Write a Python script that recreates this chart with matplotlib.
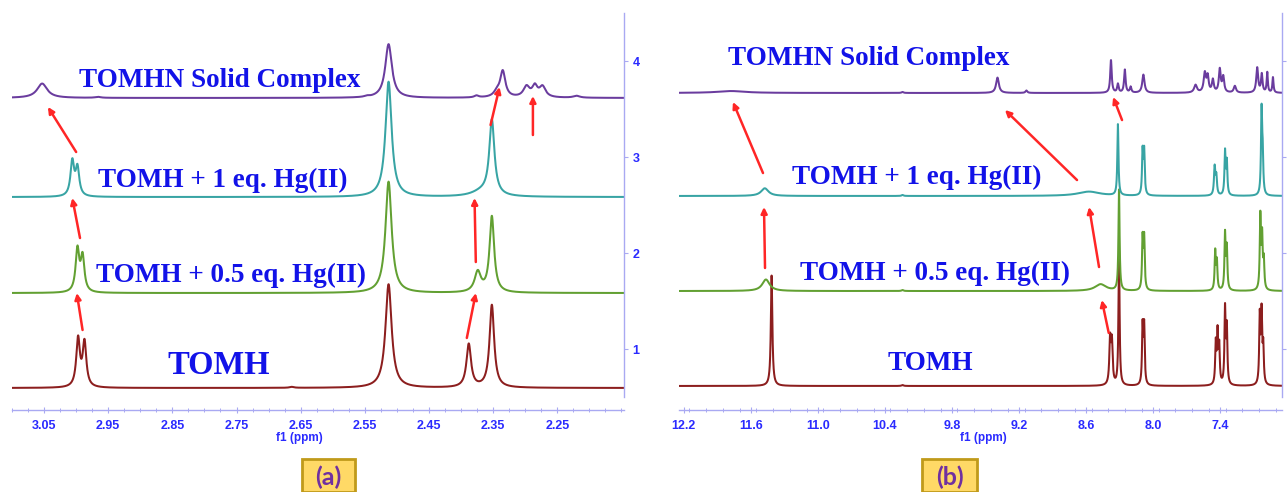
import numpy as np
import matplotlib
matplotlib.use("Agg")
import matplotlib.pyplot as plt
from matplotlib.patches import Rectangle
from matplotlib.ticker import FixedLocator, MultipleLocator

# ---------------- data ----------------
series_names = ["TOMH", "TOMH + 0.5 eq. Hg(II)", "TOMH + 1 eq. Hg(II)", "TOMHN Solid Complex"]
series_colors = ["#8c1e1e", "#62a032", "#38a4a4", "#6a3c9e"]

# panel (a): peaks as (ppm, height, half-width)
a_xlim = (3.100, 2.146)
a_baselines = [0.594, 1.583, 2.583, 3.615]
a_peaks_tomh = [(2.997, 0.50, 0.0034), (2.987, 0.46, 0.0034), (2.513, 1.08, 0.0058),
                (2.388, 0.45, 0.0043), (2.352, 0.86, 0.0043), (2.664, 0.01, 0.004)]
a_peaks_half = [(2.998, 0.44, 0.0034), (2.990, 0.36, 0.0034), (2.513, 1.16, 0.0058),
                (2.374, 0.21, 0.0058), (2.352, 0.79, 0.0043)]
a_peaks_one = [(3.006, 0.36, 0.0034), (2.998, 0.29, 0.0034), (2.513, 1.20, 0.0058),
               (2.352, 0.78, 0.0048), (2.368, 0.05, 0.019)]
a_peaks_solid = [(3.053, 0.15, 0.0095), (2.966, 0.01, 0.005), (2.547, 0.01, 0.004),
                 (2.513, 0.56, 0.0062), (2.376, 0.02, 0.004), (2.344, 0.05, 0.006),
                 (2.335, 0.27, 0.0048), (2.298, 0.11, 0.0058), (2.285, 0.11, 0.0048),
                 (2.273, 0.11, 0.0058), (2.220, 0.02, 0.006)]
a_ticks = [3.05, 2.95, 2.85, 2.75, 2.65, 2.55, 2.45, 2.35, 2.25]

# panel (b)
b_xlim = (12.243, 6.845)
b_baselines = [0.615, 1.604, 2.594, 3.667]
b_peaks_tomh = [(11.414, 1.15, 0.008), (10.242, 0.01, 0.01), (8.384, 0.46, 0.008), (8.368, 0.43, 0.008),
                (8.304, 1.40, 0.006), (8.093, 0.60, 0.006), (8.079, 0.60, 0.006),
                (7.438, 0.42, 0.006), (7.422, 0.52, 0.006), (7.407, 0.38, 0.006),
                (7.355, 0.78, 0.006), (7.339, 0.58, 0.006),
                (7.044, 0.70, 0.006), (7.028, 0.72, 0.006), (7.013, 0.38, 0.006)]
b_peaks_half = [(11.465, 0.12, 0.04), (10.242, 0.01, 0.01), (8.469, 0.07, 0.06), (8.304, 1.05, 0.006),
                (8.093, 0.53, 0.006), (8.079, 0.53, 0.006),
                (7.443, 0.40, 0.006), (7.428, 0.29, 0.006),
                (7.355, 0.58, 0.006), (7.339, 0.43, 0.006),
                (7.039, 0.76, 0.006), (7.023, 0.53, 0.006), (7.008, 0.29, 0.006)]
b_peaks_one = [(11.475, 0.08, 0.04), (10.242, 0.01, 0.01), (8.573, 0.045, 0.12), (8.314, 0.74, 0.006),
               (8.093, 0.45, 0.006), (8.079, 0.45, 0.006),
               (7.448, 0.29, 0.007), (7.433, 0.19, 0.007),
               (7.355, 0.45, 0.006), (7.339, 0.34, 0.006),
               (7.028, 0.86, 0.006), (7.018, 0.38, 0.006)]
b_peaks_solid = [(11.776, 0.02, 0.15), (10.242, 0.01, 0.01), (9.392, 0.16, 0.015), (9.133, 0.025, 0.01),
                 (8.376, 0.34, 0.008), (8.314, 0.09, 0.008), (8.252, 0.24, 0.008), (8.200, 0.06, 0.008),
                 (8.086, 0.19, 0.012), (7.619, 0.08, 0.015), (7.536, 0.20, 0.012), (7.510, 0.16, 0.01),
                 (7.464, 0.13, 0.01), (7.402, 0.24, 0.01), (7.371, 0.16, 0.01), (7.267, 0.07, 0.012),
                 (7.067, 0.26, 0.01), (7.026, 0.19, 0.008), (6.977, 0.21, 0.006), (6.926, 0.16, 0.006)]
b_ticks = [12.2, 11.6, 11.0, 10.4, 9.8, 9.2, 8.6, 8.0, 7.4]

y_ticks = [1, 2, 3, 4]

# annotation arrows (tail -> head) in data units
a_arrows = [((2.990, 1.198), (2.999, 1.583)), ((2.994, 2.156), (3.006, 2.573)),
            ((3.000, 3.052), (3.044, 3.521)), ((2.391, 1.115), (2.377, 1.583)),
            ((2.377, 1.906), (2.379, 2.573)), ((2.354, 3.333), (2.340, 3.729)),
            ((2.288, 3.229), (2.288, 3.635))]
b_arrows = [((8.396, 1.167), (8.458, 1.510)), ((11.473, 1.844), (11.482, 2.479)),
            ((11.491, 2.833), (11.760, 3.573)), ((8.483, 1.854), (8.572, 2.479)),
            ((8.680, 2.760), (9.325, 3.490)), ((8.277, 3.385), (8.357, 3.625))]

# label anchor positions (layout)
a_label_pos = [(2.778, 0.833), (2.758, 1.771), (2.771, 2.760), (2.776, 3.802)]
b_label_pos = [(9.996, 0.854), (9.947, 1.792), (10.117, 2.792), (10.547, 4.031)]

# ---------------- style ----------------
TXT_BLUE = "#1212e8"
TICK_BLUE = "#2a2aff"
SPINE = "#a9a9f2"
RED = "#ff2626"
W, H = 1288, 492


def spectrum(x, peaks, base):
    y = np.full_like(x, base)
    for c, h, g in peaks:
        y += h * g * g / ((x - c) ** 2 + g * g)
    return y


fig = plt.figure(figsize=(W / 100, H / 100), dpi=100)
fig.patch.set_facecolor("white")


def make_panel(rect, xlim, ticks, minor, fmt, baselines, peak_sets, arrows, label_pos,
               label_sizes, xlabel_frac, show_ylabels):
    ax = fig.add_axes(rect)
    x = np.linspace(xlim[0], xlim[1], 9000)
    for base, peaks, col in zip(baselines, peak_sets, series_colors):
        ax.plot(x, spectrum(x, peaks, base), color=col, lw=1.45, solid_joinstyle="round")
    ax.set_xlim(*xlim)
    ax.set_ylim(0.5, 4.5)
    for s in ("left", "top"):
        ax.spines[s].set_visible(False)
    ax.spines["right"].set_color(SPINE)
    ax.spines["bottom"].set_color(SPINE)
    ax.spines["bottom"].set_position(("outward", 9.4))
    ax.spines["right"].set_linewidth(1.0)
    ax.spines["bottom"].set_linewidth(1.0)
    ax.xaxis.set_major_locator(FixedLocator(ticks))
    ax.xaxis.set_minor_locator(MultipleLocator(minor))
    ax.set_xticklabels([fmt.format(t) for t in ticks])
    ax.tick_params(axis="x", which="major", direction="inout", length=4, width=0.8,
                   color=SPINE, labelcolor=TICK_BLUE, labelsize=9, pad=5)
    ax.tick_params(axis="x", which="minor", direction="inout", length=3, width=0.7, color=SPINE)
    for lbl in ax.get_xticklabels():
        lbl.set_fontweight("bold")
        lbl.set_family("Liberation Sans")
    ax.yaxis.tick_right()
    ax.yaxis.set_major_locator(FixedLocator(y_ticks))
    ax.tick_params(axis="y", direction="out", length=3, width=0.8, color=SPINE,
                   labelcolor=TICK_BLUE, labelsize=9, pad=3, labelright=show_ylabels)
    for lbl in ax.get_yticklabels():
        lbl.set_fontweight("bold")
        lbl.set_family("Liberation Sans")
    ax.text(xlabel_frac, -0.107, "f1 (ppm)", transform=ax.transAxes, ha="center", va="center",
            fontsize=8.5, fontweight="bold", color=TICK_BLUE, family="Liberation Sans")
    for (tail, head) in arrows:
        ax.annotate("", xy=head, xytext=tail,
                    arrowprops=dict(arrowstyle="-|>", color=RED, lw=1.8, mutation_scale=9,
                                    shrinkA=0, shrinkB=0))
    for name, pos, fs in zip(series_names, label_pos, label_sizes):
        ax.text(pos[0], pos[1], name, ha="center", va="center", fontsize=fs,
                fontweight="bold", family="Liberation Serif", color=TXT_BLUE)
    return ax


axes_bottom = 1 - 397 / H
axes_h = 384 / H
make_panel([12 / W, axes_bottom, 612 / W, axes_h], a_xlim, a_ticks, 0.025, "{:.2f}",
           a_baselines, [a_peaks_tomh, a_peaks_half, a_peaks_one, a_peaks_solid],
           a_arrows, a_label_pos, [23.5, 19.5, 19.5, 19.5], 0.469, True)
make_panel([679 / W, axes_bottom, 603 / W, axes_h], b_xlim, b_ticks, 0.15, "{:.1f}",
           b_baselines, [b_peaks_tomh, b_peaks_half, b_peaks_one, b_peaks_solid],
           b_arrows, b_label_pos, [19.5, 19.5, 19.5, 19.5], 0.504, False)

# panel tags
for tag, x0, x1 in (("(a)", 302, 355), ("(b)", 922, 977)):
    fig.patches.append(Rectangle((x0 / W, 0.0), (x1 - x0) / W, (H - 459) / H,
                                 transform=fig.transFigure, facecolor="#ffd966",
                                 edgecolor="#c09a1a", linewidth=2.0))
    fig.text((x0 + x1) / 2 / W, 1 - 477 / H, tag, ha="center", va="center", fontsize=18,
             fontweight="bold", color="#7030a0", family="Lato")

fig.savefig("out.png", dpi=100, facecolor="white")
